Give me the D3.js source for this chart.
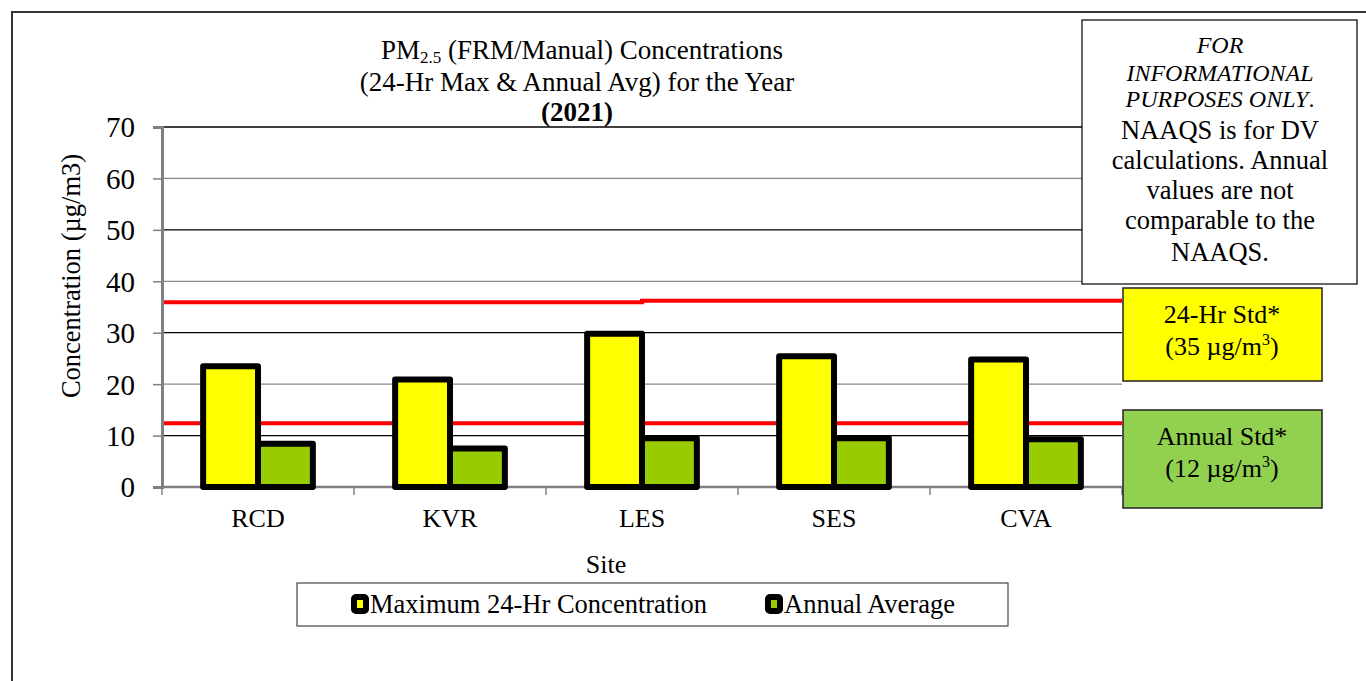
<!DOCTYPE html>
<html>
<head>
    <title>PM2.5 Concentrations 2021</title>
    <script src="https://cdnjs.cloudflare.com/ajax/libs/d3/7.8.5/d3.min.js"></script>
    <style>
        body {
            margin: 0;
            background: #fff;
        }

        svg text {
            font-family: "Liberation Serif", "Times New Roman", serif;
            fill: #000;
        }
    </style>
</head>
<body>
<svg id="chart"></svg>

<script>
    // values
    const sites = ["RCD", "KVR", "LES", "SES", "CVA"];
    const max24Hr = [23.5, 20.9, 29.8, 25.4, 24.8];
    const annualAvg = [8.4, 7.5, 9.5, 9.5, 9.3];
    const yTicks = [0, 10, 20, 30, 40, 50, 60, 70];

    // standard lines as drawn (the 24-hr line steps up slightly in the middle of LES)
    const std24Levels = [35.9, 36.2];
    const stdAnnualLevels = [12.4];

    const width = 1366;
    const height = 681;
    const margin = { top: 127, right: 244, bottom: 194, left: 162 };

    const svg = d3.select("#chart")
        .attr("width", width)
        .attr("height", height);

    // outer frame (runs off the right and bottom of the page)
    svg.append("path")
        .attr("d", `M12,${height + 5}V12H${width + 5}`)
        .attr("fill", "none")
        .attr("stroke", "#333")
        .attr("stroke-width", 2);

    const x0 = d3.scaleBand()
        .domain(sites)
        .range([margin.left, width - margin.right]);

    const x1 = d3.scaleBand()
        .domain(["max", "avg"])
        .range([0, x0.bandwidth()])
        .paddingInner(0)
        .paddingOuter(0.75);

    const y = d3.scaleLinear()
        .domain([0, 70])
        .range([height - margin.bottom, margin.top]);

    // gridlines
    svg.append("g")
        .selectAll("line")
        .data(yTicks.filter(d => d > 0))
        .join("line")
        .attr("x1", margin.left)
        .attr("x2", width - margin.right)
        .attr("y1", d => y(d))
        .attr("y2", d => y(d))
        .attr("stroke", d => (d / 10) % 2 === 1 ? "#000" : "#888")
        .attr("stroke-width", 1.3);

    // standard lines
    const stdLine = d3.line()
        .x(d => d[0])
        .y(d => y(d[1]))
        .curve(d3.curveStepAfter);

    const les = x0("LES") + x0.bandwidth() / 2;
    const redLines = [
        [[margin.left, std24Levels[0]], [les, std24Levels[1]], [width - margin.right, std24Levels[1]]],
        [[margin.left, stdAnnualLevels[0]], [width - margin.right, stdAnnualLevels[0]]]
    ];
    svg.append("g")
        .selectAll("path")
        .data(redLines)
        .join("path")
        .attr("d", stdLine)
        .attr("fill", "none")
        .attr("stroke", "#ff0000")
        .attr("stroke-width", 4);

    // y axis
    const yAxis = svg.append("g")
        .attr("transform", `translate(${margin.left},0)`)
        .call(d3.axisLeft(y).tickValues(yTicks).tickSize(9).tickPadding(18));
    yAxis.select(".domain").attr("stroke", "#808080").attr("stroke-width", 3);
    yAxis.selectAll(".tick line").attr("stroke", "#808080").attr("stroke-width", 1.5);
    yAxis.selectAll(".tick text")
        .attr("font-size", 29)
        .attr("font-family", "Liberation Serif")
        .attr("dy", "0.34em");

    // x axis
    const xAxis = svg.append("g")
        .attr("transform", `translate(0,${y(0)})`);
    xAxis.append("line")
        .attr("x1", margin.left)
        .attr("x2", width - margin.right)
        .attr("stroke", "#808080")
        .attr("stroke-width", 2.5);
    xAxis.selectAll(".sep")
        .data(sites.concat(["end"]))
        .join("line")
        .attr("class", "sep")
        .attr("x1", (d, i) => margin.left + i * x0.step())
        .attr("x2", (d, i) => margin.left + i * x0.step())
        .attr("y1", 0)
        .attr("y2", 8)
        .attr("stroke", "#808080")
        .attr("stroke-width", 1.5);
    xAxis.selectAll(".lbl")
        .data(sites)
        .join("text")
        .attr("class", "lbl")
        .attr("x", d => x0(d) + x0.bandwidth() / 2)
        .attr("y", 40)
        .attr("text-anchor", "middle")
        .attr("font-size", 26)
        .text(d => d);

    // bars
    const series = [
        { key: "max", values: max24Hr, color: "#ffff00" },
        { key: "avg", values: annualAvg, color: "#99cc00" }
    ];

    series.forEach(s => {
        svg.append("g")
            .selectAll("rect")
            .data(sites.map((site, i) => ({ site, value: s.values[i] })))
            .join("rect")
            .attr("x", d => x0(d.site) + x1(s.key))
            .attr("y", d => y(d.value))
            .attr("width", x1.bandwidth())
            .attr("height", d => y(0) - y(d.value))
            .attr("fill", s.color)
            .attr("stroke", "#000")
            .attr("stroke-width", 6)
            .attr("stroke-linejoin", "round");
    });

    // titles
    const title = svg.append("text")
        .attr("text-anchor", "middle")
        .attr("font-size", 27);
    const t1 = title.append("tspan").attr("x", 582).attr("y", 59);
    t1.append("tspan").text("PM");
    t1.append("tspan").attr("font-size", 17).attr("dy", 4).text("2.5");
    t1.append("tspan").attr("dy", -4).text(" (FRM/Manual) Concentrations");
    title.append("tspan").attr("x", 577).attr("y", 91)
        .text("(24-Hr Max & Annual Avg) for the Year");
    title.append("tspan").attr("x", 577).attr("y", 121)
        .attr("font-weight", "bold").text("(2021)");

    svg.append("text")
        .attr("transform", "translate(80,276) rotate(-90)")
        .attr("text-anchor", "middle")
        .attr("font-size", 26.5)
        .text("Concentration (µg/m3)");

    svg.append("text")
        .attr("x", 606)
        .attr("y", 573)
        .attr("text-anchor", "middle")
        .attr("font-size", 26)
        .text("Site");

    // legend
    const legend = svg.append("g");
    legend.append("rect")
        .attr("x", 297).attr("y", 583)
        .attr("width", 711).attr("height", 43)
        .attr("fill", "#fff")
        .attr("stroke", "#444")
        .attr("stroke-width", 1.2);

    const legendItems = [
        { label: "Maximum 24-Hr Concentration", color: "#ffff00", x: 351 },
        { label: "Annual Average", color: "#99cc00", x: 765 }
    ];
    const li = legend.selectAll(".item")
        .data(legendItems)
        .join("g")
        .attr("class", "item")
        .attr("transform", d => `translate(${d.x},604)`);
    li.append("rect")
        .attr("x", 3).attr("y", -7)
        .attr("width", 12).attr("height", 14)
        .attr("rx", 2)
        .attr("fill", d => d.color)
        .attr("stroke", "#000")
        .attr("stroke-width", 6)
        .attr("stroke-linejoin", "round");
    li.append("text")
        .attr("x", 19)
        .attr("y", 9)
        .attr("font-size", 26.5)
        .text(d => d.label);

    // note box
    const note = svg.append("g");
    note.append("rect")
        .attr("x", 1082).attr("y", 20)
        .attr("width", 275).attr("height", 264)
        .attr("fill", "#fff")
        .attr("stroke", "#000")
        .attr("stroke-width", 1.2);

    const noteLines = [
        { text: "FOR", italic: true },
        { text: "INFORMATIONAL", italic: true },
        { text: "PURPOSES ONLY", italic: true, tail: "." },
        { text: "NAAQS is for DV" },
        { text: "calculations. Annual" },
        { text: "values are not" },
        { text: "comparable to the" },
        { text: "NAAQS." }
    ];
    const noteY = [53, 81, 107, 139, 169, 199, 229, 261];
    const nt = note.append("text").attr("text-anchor", "middle");
    noteLines.forEach((d, i) => {
        const line = nt.append("tspan")
            .attr("x", 1220)
            .attr("y", noteY[i])
            .attr("font-size", d.italic ? 24 : 26.5);
        line.append("tspan")
            .attr("font-style", d.italic ? "italic" : "normal")
            .text(d.text);
        if (d.tail) line.append("tspan").text(d.tail);
    });

    // standard boxes
    const stdBoxes = [
        { name: "24-Hr Std*", value: "35", color: "#ffff00", y: 288, h: 93 },
        { name: "Annual Std*", value: "12", color: "#92d050", y: 410, h: 98 }
    ];
    const sb = svg.selectAll(".std")
        .data(stdBoxes)
        .join("g")
        .attr("class", "std");
    sb.append("rect")
        .attr("x", 1123)
        .attr("y", d => d.y)
        .attr("width", 199)
        .attr("height", d => d.h)
        .attr("fill", d => d.color)
        .attr("stroke", "#222")
        .attr("stroke-width", 1.5);
    sb.append("text")
        .attr("x", 1222)
        .attr("y", d => d.y + 35)
        .attr("text-anchor", "middle")
        .attr("font-size", 26)
        .text(d => d.name);
    const unit = sb.append("text")
        .attr("x", 1222)
        .attr("y", d => d.y + 67)
        .attr("text-anchor", "middle")
        .attr("font-size", 26);
    unit.append("tspan").text(d => `(${d.value} µg/m`);
    unit.append("tspan").attr("font-size", 16).attr("dy", -10).text("3");
    unit.append("tspan").attr("dy", 10).text(")");
</script>
</body>
</html>
